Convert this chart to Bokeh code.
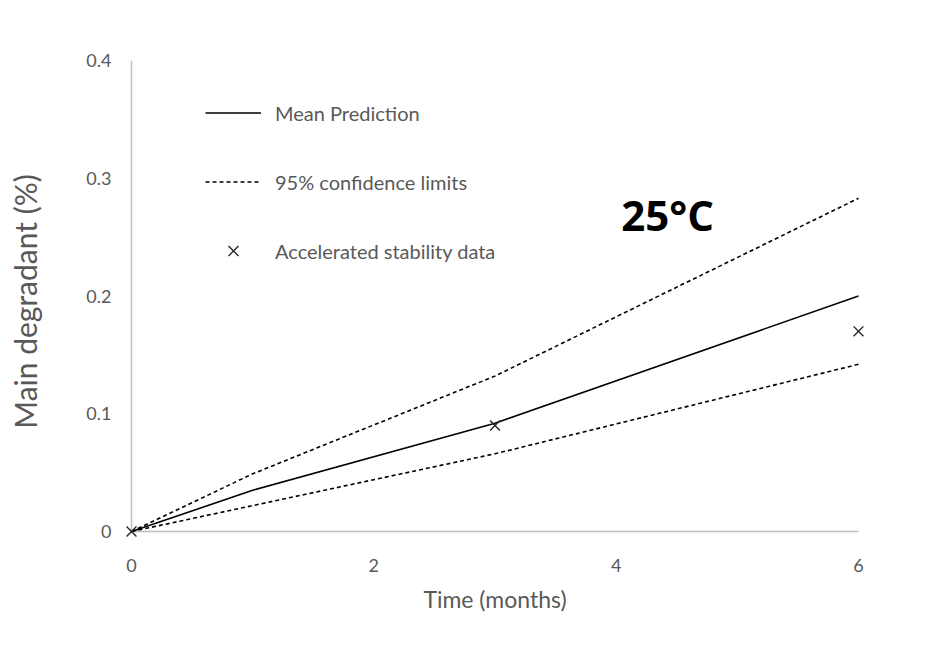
from bokeh.plotting import figure
from bokeh.models import ColumnDataSource, Legend, LegendItem, Label, Range1d, FixedTicker
from bokeh.embed import file_html
from bokeh.resources import INLINE

# ---- data ----
time_pred = [0, 1, 3, 6]
mean_pred = [0.0, 0.035, 0.092, 0.200]
upper_cl = [0.0, 0.049, 0.132, 0.283]
lower_cl = [0.0, 0.022, 0.066, 0.142]

time_obs = [0, 3, 6]
degradant_obs = [0.0, 0.090, 0.170]

x_ticks = [0, 2, 4, 6]
y_ticks = [0, 0.1, 0.2, 0.3, 0.4]
y_tick_labels = ["0", "0.1", "0.2", "0.3", "0.4"]

GRAY_TXT = "#595959"
AXIS_COL = "#bfbfbf"
FONT = "Lato"

p = figure(width=920, height=644, output_backend="svg", toolbar_location=None,
           x_range=Range1d(-0.0908, 6.0908), y_range=Range1d(-0.00934, 0.4),
           min_border_left=120, min_border_right=51, min_border_top=60, min_border_bottom=102)
p.outline_line_color = None
p.grid.visible = False

# axis lines drawn at x=0 / y=0 over the tick extent (frame is padded so markers are not clipped)
p.segment(x0=[x_ticks[0], x_ticks[0]], y0=[y_ticks[0], y_ticks[0]],
          x1=[x_ticks[-1], x_ticks[0]], y1=[y_ticks[0], y_ticks[-1]],
          line_color=AXIS_COL, line_width=1.5)

src = ColumnDataSource(dict(t=time_pred, m=mean_pred, u=upper_cl, l=lower_cl))
r_mean = p.line("t", "m", source=src, line_color="black", line_width=1.6)
r_up = p.line("t", "u", source=src, line_color="black", line_width=1.6, line_dash="4 3")
r_lo = p.line("t", "l", source=src, line_color="black", line_width=1.6, line_dash="4 3")
r_obs = p.scatter(time_obs, degradant_obs, marker="x", size=14, line_color="#262626", line_width=1.4)

for ax in (p.xaxis[0], p.yaxis[0]):
    ax.axis_line_color = None
    ax.major_tick_line_color = None
    ax.minor_tick_line_color = None
    ax.major_tick_out = 0
    ax.major_tick_in = 0
    ax.major_label_text_color = GRAY_TXT
    ax.major_label_text_font = FONT
    ax.major_label_text_font_size = "18px"
    ax.axis_label_text_color = GRAY_TXT
    ax.axis_label_text_font = FONT
    ax.axis_label_text_font_style = "normal"

p.xaxis.ticker = FixedTicker(ticks=x_ticks)
p.yaxis.ticker = FixedTicker(ticks=y_ticks)
p.yaxis.major_label_overrides = {t: s for t, s in zip(y_ticks, y_tick_labels)}
p.xaxis.axis_label = "Time (months)"
p.yaxis.axis_label = "Main degradant (%)"
p.xaxis.axis_label_text_font_size = "23px"
p.yaxis.axis_label_text_font_size = "30px"
p.xaxis.major_label_standoff = 16
p.xaxis.axis_label_standoff = 10
p.yaxis.major_label_standoff = 9
p.yaxis.axis_label_standoff = 40

legend = Legend(items=[
    LegendItem(label="Mean Prediction", renderers=[r_mean]),
    LegendItem(label="95% confidence limits", renderers=[r_up]),
    LegendItem(label="Accelerated stability data", renderers=[r_obs]),
], location=(85, 274))
legend.glyph_width = 56
legend.glyph_height = 35
legend.label_height = 35
legend.spacing = 34
legend.padding = 10
legend.margin = 0
legend.label_standoff = 14
legend.label_text_font = FONT
legend.label_text_font_size = "20px"
legend.label_text_color = GRAY_TXT
legend.border_line_color = None
legend.background_fill_alpha = 0
p.add_layout(legend)

p.add_layout(Label(x=4.424, y=0.2688, text="25°C", text_font="Open Sans", text_font_style="bold",
                   text_font_size="42px", text_color="black", text_align="center",
                   text_baseline="middle"))

open("out.html", "w").write(file_html(p, INLINE))
